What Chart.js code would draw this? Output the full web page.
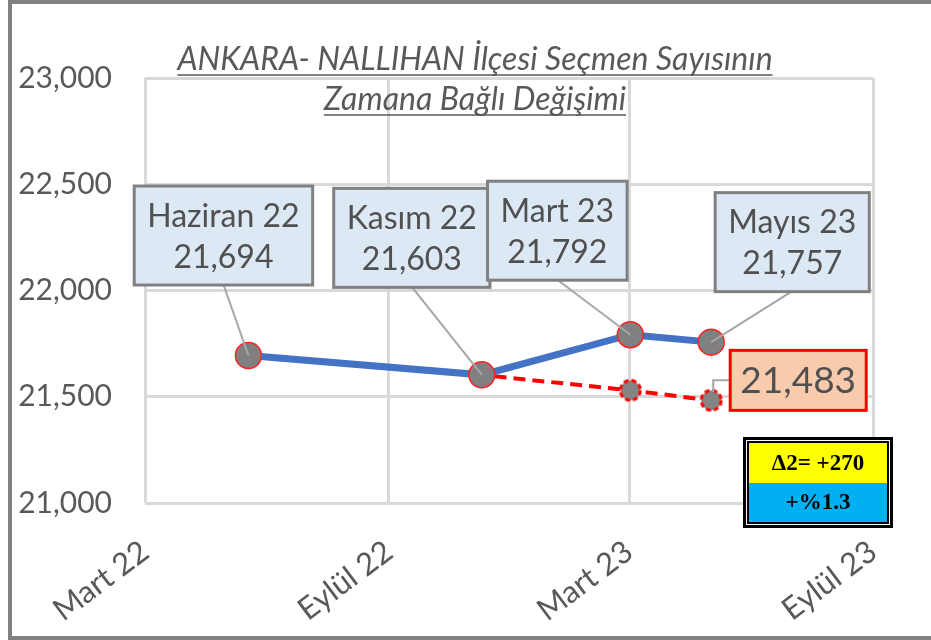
<!DOCTYPE html>
<html>
<head>
<meta charset="utf-8">
<script src="https://cdn.jsdelivr.net/npm/chart.js@4.4.1/dist/chart.umd.min.js"></script>
<style>
  html, body { margin: 0; padding: 0; background: #fff; }
  #wrap { width: 931px; height: 640px; position: relative; }
</style>
</head>
<body>
<div id="wrap"><canvas id="myChart" width="931" height="640"></canvas></div>
<script>
"use strict";

// seçmen sayıları
const pointNames = ["Haziran 22", "Kasım 22", "Mart 23", "Mayıs 23"];
const pointDates = ["2022-05-18", "2022-11-10", "2023-03-02", "2023-05-02"];
const actualVoters = [21694, 21603, 21792, 21757];
const trendVoters = [21694, 21603, 21530, 21483];

// eksen
const axisStart = "2022-03-01";
const tickDates = ["2022-03-01", "2022-09-01", "2023-03-01", "2023-09-01"];
const tickNames = ["Mart 22", "Eylül 22", "Mart 23", "Eylül 23"];
const yMin = 21000, yMax = 23000, yStep = 500;

const titleLines = ["ANKARA- NALLIHAN İlçesi Seçmen Sayısının", "Zamana Bağlı Değişimi"];
const deltaLines = ["Δ2= +270", "+%1.3"];

function dayOf(s) {
    let p = s.split("-");
    let a = axisStart.split("-");
    return (Date.UTC(+p[0], p[1] - 1, +p[2]) - Date.UTC(+a[0], a[1] - 1, +a[2])) / 864e5;
}
function fmt(v) { return Math.round(v).toLocaleString("en-US"); }

const tickDays = tickDates.map(dayOf);
const pointDays = pointDates.map(dayOf);

// kesikli kenarlı gri nokta (trend serisi)
function dashedDot(r) {
    let c = document.createElement("canvas");
    c.width = c.height = 2 * r + 4;
    let g = c.getContext("2d");
    g.beginPath();
    g.arc(r + 2, r + 2, r, 0, Math.PI * 2);
    g.fillStyle = "#848484";
    g.fill();
    g.setLineDash([5, 3]);
    g.lineWidth = 3;
    g.strokeStyle = "#ff0000";
    g.stroke();
    return c;
}

const FONT = "Lato, 'Open Sans', sans-serif";
const TEXT = "#505050";

// etiket kutularının noktaya göre konumu (px)
const boxOffsets = [[-25, -120], [-70, -137], [-73, -104], [81, -100]];

function roundBox(ctx, x, y, w, h, fill, stroke, lw) {
    ctx.fillStyle = fill;
    ctx.fillRect(x, y, w, h);
    ctx.lineWidth = lw;
    ctx.strokeStyle = stroke;
    ctx.strokeRect(x, y, w, h);
}

const framePlugin = {
    id: "frame",
    beforeDraw(chart) {
        let ctx = chart.ctx;
        ctx.save();
        ctx.fillStyle = "#fff";
        ctx.fillRect(0, 0, chart.width, chart.height);
        ctx.fillStyle = "#808080";
        ctx.fillRect(8, 0, chart.width - 8, 4);
        ctx.fillRect(8, 0, 4, chart.height);
        ctx.fillRect(8, chart.height - 4, chart.width - 8, 4);
        ctx.restore();
    }
};

const titlePlugin = {
    id: "underTitle",
    afterDraw(chart) {
        let ctx = chart.ctx;
        ctx.save();
        ctx.font = "italic 32px " + FONT;
        ctx.fillStyle = "#595959";
        ctx.strokeStyle = "#595959";
        ctx.lineWidth = 1.5;
        ctx.textAlign = "center";
        ctx.textBaseline = "alphabetic";
        let cx = 475;
        titleLines.forEach(function (t, i) {
            let y = 70 + i * 40;
            ctx.fillText(t, cx, y);
            let w = ctx.measureText(t).width;
            ctx.beginPath();
            ctx.moveTo(cx - w / 2, y + 5);
            ctx.lineTo(cx + w / 2, y + 5);
            ctx.stroke();
        });
        ctx.restore();
    }
};

const labelPlugin = {
    id: "boxLabels",
    afterDatasetsDraw(chart) {
        let ctx = chart.ctx;
        let pts = chart.getDatasetMeta(0).data;
        let trend = chart.getDatasetMeta(1).data;
        ctx.save();

        // bağlantı çizgileri
        ctx.strokeStyle = "#a6a6a6";
        ctx.lineWidth = 2;
        pts.forEach(function (p, i) {
            let cx = p.x + boxOffsets[i][0], cy = p.y + boxOffsets[i][1];
            ctx.beginPath();
            ctx.moveTo(cx, cy + 49);
            ctx.lineTo(p.x, p.y);
            ctx.stroke();
        });

        ctx.font = "32px " + FONT;
        ctx.textAlign = "center";
        ctx.textBaseline = "middle";
        pts.forEach(function (p, i) {
            let cx = p.x + boxOffsets[i][0], cy = p.y + boxOffsets[i][1];
            let w = Math.max(ctx.measureText(pointNames[i]).width, ctx.measureText(fmt(actualVoters[i])).width) + 26;
            let h = 99;
            roundBox(ctx, cx - w / 2, cy - h / 2, w, h, "#dde8f5", "#808080", 3);
            ctx.fillStyle = TEXT;
            ctx.fillText(pointNames[i], cx, cy - 19);
            ctx.fillText(fmt(actualVoters[i]), cx, cy + 22);
        });

        // trend serisinin son değeri
        let last = trend[trend.length - 1];
        let bx = last.x + 87, by = last.y - 20;
        ctx.strokeStyle = "#a6a6a6";
        ctx.lineWidth = 2;
        ctx.beginPath();
        ctx.moveTo(bx - 68, by);
        ctx.lineTo(last.x + 2, by);
        ctx.lineTo(last.x + 2, last.y - 8);
        ctx.stroke();
        roundBox(ctx, bx - 68, by - 30, 136, 60, "#f8cbad", "#ff0000", 3);
        ctx.font = "37px " + FONT;
        ctx.fillStyle = TEXT;
        ctx.fillText(fmt(trendVoters[trendVoters.length - 1]), bx, by + 1);

        // fark kutusu
        let dx = 743, dy = 437;
        ctx.fillStyle = "#000";
        ctx.fillRect(dx, dy, 150, 91);
        ctx.fillStyle = "#fff";
        ctx.fillRect(dx + 3, dy + 3, 144, 85);
        ctx.fillStyle = "#000";
        ctx.fillRect(dx + 4, dy + 4, 142, 83);
        ctx.fillStyle = "#ffff00";
        ctx.fillRect(dx + 6, dy + 6, 138, 40);
        ctx.fillStyle = "#00b0f0";
        ctx.fillRect(dx + 6, dy + 46, 138, 39);
        ctx.fillStyle = "#000";
        ctx.font = "bold 23px 'Liberation Serif', serif";
        ctx.fillText(deltaLines[0], dx + 75, dy + 27);
        ctx.fillText(deltaLines[1], dx + 75, dy + 66);

        ctx.restore();
    }
};

const chart = new Chart(document.getElementById("myChart"), {
    type: "line",
    data: {
        datasets: [
            {
                data: pointDays.map(function (d, i) { return { x: d, y: actualVoters[i] }; }),
                borderColor: "#4472c4",
                borderWidth: 7,
                pointRadius: 13,
                pointBackgroundColor: "#808080",
                pointBorderColor: "#ff2020",
                pointBorderWidth: 1.5,
                tension: 0,
                order: 0
            },
            {
                data: pointDays.map(function (d, i) { return { x: d, y: trendVoters[i] }; }),
                borderColor: "#ff0000",
                borderWidth: 4,
                borderDash: [12, 7],
                pointStyle: dashedDot(10),
                pointRadius: 11,
                tension: 0,
                order: 1
            }
        ]
    },
    options: {
        responsive: false,
        animation: false,
        events: [],
        layout: { padding: { left: 10, top: 78, right: 58, bottom: 0 } },
        plugins: { legend: { display: false }, title: { display: false }, tooltip: { enabled: false } },
        scales: {
            x: {
                type: "linear",
                min: tickDays[0],
                max: tickDays[tickDays.length - 1],
                afterBuildTicks(scale) { scale.ticks = tickDays.map(function (v) { return { value: v }; }); },
                afterFit(scale) { scale.height = 137; },
                grid: { color: "#d9d9d9", lineWidth: 3, drawTicks: false },
                border: { display: false },
                ticks: {
                    autoSkip: false,
                    minRotation: 37,
                    maxRotation: 37,
                    padding: 30,
                    color: "#595959",
                    font: { family: FONT, size: 31 },
                    callback: function (v) { let i = tickDays.indexOf(v); return i < 0 ? "" : tickNames[i]; }
                }
            },
            y: {
                min: yMin,
                max: yMax,
                afterFit(scale) { scale.width = 135; },
                grid: { color: "#d9d9d9", lineWidth: 3, drawTicks: false },
                border: { display: false },
                ticks: {
                    stepSize: yStep,
                    padding: 33,
                    color: "#595959",
                    font: { family: FONT, size: 30 },
                    callback: function (v) { return fmt(v); }
                }
            }
        }
    },
    plugins: [framePlugin, titlePlugin, labelPlugin]
});
</script>
</body>
</html>
